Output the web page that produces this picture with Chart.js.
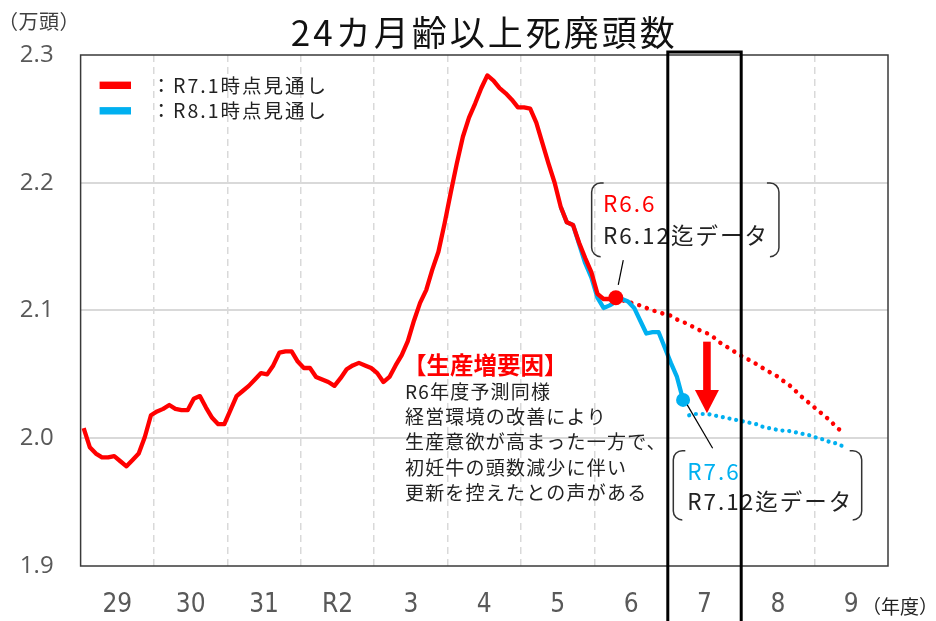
<!DOCTYPE html>
<html><head><meta charset="utf-8">
<script src="https://cdn.jsdelivr.net/npm/chart.js@4.4.1/dist/chart.umd.min.js"></script>
<style>html,body{margin:0;padding:0;background:#fff;}#wrap{width:936px;height:621px;position:relative;}</style>
</head><body><div id="wrap"><canvas id="c" width="936" height="621"></canvas></div>
<script>
// ---- data ----
const YEAR_LABELS = ['29','30','31','R2','3','4','5','6','7','8','9'];
const Y_TICKS = [1.9, 2.0, 2.1, 2.2, 2.3];

// months counted from April of FY29 (index 0)
const RED_ACTUAL_START = 0;
const RED_ACTUAL = [
  2.008,1.993,1.988,1.985,1.985,1.986,1.982,1.978,1.983,1.988,2.001,2.018,
  2.021,2.023,2.026,2.023,2.022,2.022,2.031,2.033,2.024,2.016,2.011,2.011,
  2.022,2.033,2.037,2.041,2.046,2.051,2.050,2.057,2.067,2.068,2.068,2.060,
  2.055,2.055,2.048,2.046,2.044,2.041,2.047,2.054,2.057,2.059,2.057,2.055,
  2.051,2.044,2.048,2.057,2.065,2.076,2.092,2.106,2.116,2.132,2.146,2.168,
  2.192,2.215,2.236,2.251,2.262,2.274,2.284,2.280,2.274,2.270,2.265,2.259,
  2.259,2.258,2.247,2.231,2.215,2.200,2.181,2.169,2.167,2.153,2.141,2.130,
  2.113,2.109,2.109,2.110
];
const BLUE_ACTUAL_START = 78;
const BLUE_ACTUAL = [
  2.181,2.169,2.167,2.152,2.137,2.126,2.110,2.102,2.104,2.107,2.109,2.107,
  2.102,2.092,2.082,2.083,2.083,2.071,2.059,2.048,2.030
];
const RED_OUTLOOK_START = 87;
const RED_OUTLOOK = [
  2.110,2.108,2.107,2.105,2.104,2.102,2.100,2.099,2.097,2.096,2.093,2.091,
  2.089,2.086,2.084,2.082,2.079,2.075,2.072,2.069,2.066,2.063,2.061,2.058,
  2.055,2.052,2.050,2.046,2.043,2.039,2.034,2.030,2.026,2.022,2.018,2.014,
  2.009,2.005
];
const BLUE_OUTLOOK_START = 99;
const BLUE_OUTLOOK = [
  2.018,2.019,2.019,2.019,2.018,2.017,2.016,2.015,2.014,2.013,2.012,2.011,
  2.009,2.008,2.007,2.006,2.006,2.005,2.004,2.003,2.002,2.000,1.999,1.997,
  1.996,1.994
];
const SERIES_NAMES = ['：R7.1時点見通し', '：R8.1時点見通し'];
const TITLE = '24カ月齢以上死廃頭数';
const Y_UNIT = '（万頭）';
const X_UNIT = '（年度）';
const FACTOR_TITLE = '【生産増要因】';
const FACTOR_LINES = ['R6年度予測同様','経営環境の改善により','生産意欲が高まった一方で、','初妊牛の頭数減少に伴い','更新を控えたとの声がある'];

// ---- styles ----
const RED = '#ff0000', BLUE = '#00b0f0';
const JP = '"Noto Sans CJK JP", "Noto Sans", sans-serif';
const MONTHS = YEAR_LABELS.length * 12;

function pts(start, arr) { return arr.map((v, i) => ({ x: start + i + 0.5, y: v })); }
function lastDot(r) { return ctx => ctx.dataIndex === ctx.dataset.data.length - 1 ? r : 0; }

// annotation anchors in (month, value) data coordinates
const ANNOT = {
  c1: { m1: 83.55, m2: 114.17, v1: 2.1998, v2: 2.1421, tm: 85.4, l1v: 2.1839, l2v: 2.1591, t1: 'R6.6', t2: 'R6.12迄データ', col: RED,
        lead: [[88.72, 2.1395], [87.9, 2.12]] },
  c2: { m1: 96.9, m2: 127.7, v1: 1.9903, v2: 1.9361, tm: 99.18, l1v: 1.9739, l2v: 1.9504, t1: 'R7.6', t2: 'R7.12迄データ', col: BLUE,
        lead: [[99.18, 2.0261], [103.33, 1.9922]] },
  arrow: { m: 102.4, top: 2.0756, base: 2.0378, tip: 2.0196 },
  factor: { m: 53.03, titleV: 2.0573, firstV: 2.0364 },
  box: { m1: 96, m2: 108 }
};

function bracketBox(ctx, x1, y1, x2, y2) {
  const r = 9, stub = 12;
  ctx.beginPath();
  ctx.moveTo(x1 + stub, y1); ctx.arcTo(x1, y1, x1, y1 + r, r); ctx.lineTo(x1, y2 - r); ctx.arcTo(x1, y2, x1 + stub, y2, r);
  ctx.moveTo(x2 - stub, y1); ctx.arcTo(x2, y1, x2, y1 + r, r); ctx.lineTo(x2, y2 - r); ctx.arcTo(x2, y2, x2 - stub, y2, r);
  ctx.stroke();
}

const overlay = {
  id: 'overlay',
  beforeDatasetsDraw(chart) {
    const { ctx, chartArea: a } = chart;
    ctx.save();
    ctx.strokeStyle = '#3a3a3a'; ctx.lineWidth = 1.5;
    ctx.strokeRect(a.left, a.top, a.right - a.left, a.bottom - a.top);
    ctx.restore();
  },
  afterDraw(chart) {
    const { ctx, chartArea: a } = chart;
    const X = v => chart.scales.x.getPixelForValue(v);
    const Y = v => chart.scales.y.getPixelForValue(v);
    ctx.save();
    ctx.textBaseline = 'middle';
    // title
    ctx.fillStyle = '#111'; ctx.textAlign = 'center';
    ctx.font = '35px ' + JP; ctx.letterSpacing = '3px';
    ctx.fillText(TITLE, (a.left + a.right) / 2, 33);
    ctx.letterSpacing = '0px';
    // units
    ctx.textAlign = 'left'; ctx.fillStyle = '#404040';
    ctx.font = '20px ' + JP; ctx.letterSpacing = '0.5px';
    ctx.fillText(Y_UNIT, -2, 21);
    ctx.fillStyle = '#222';
    ctx.font = '19px ' + JP; ctx.letterSpacing = '0px';
    ctx.fillText(X_UNIT, 862, 607);
    // legend
    const lg = [[RED, a.top + 30.3], [BLUE, a.top + 55.8]];
    lg.forEach(([c, y], i) => {
      ctx.fillStyle = c; ctx.fillRect(a.left + 19, y - 3.7, 31.4, 7.4);
      ctx.fillStyle = '#222'; ctx.font = '19.5px ' + JP; ctx.letterSpacing = '2px';
      ctx.fillText(SERIES_NAMES[i], a.left + 71, y);
      ctx.letterSpacing = '0px';
    });
    // factor text
    const f = ANNOT.factor;
    ctx.fillStyle = RED; ctx.font = 'bold 23.5px ' + JP; ctx.letterSpacing = '0px';
    ctx.fillText(FACTOR_TITLE, X(f.m) - 2, Y(f.titleV));
    ctx.fillStyle = '#222'; ctx.font = '19px ' + JP; ctx.letterSpacing = '1.2px';
    FACTOR_LINES.forEach((t, i) => ctx.fillText(t, X(f.m), Y(f.firstV) + i * 25.2));
    ctx.letterSpacing = '0px';
    // callouts
    [ANNOT.c1, ANNOT.c2].forEach(c => {
      ctx.strokeStyle = '#333'; ctx.lineWidth = 1.5;
      bracketBox(ctx, X(c.m1), Y(c.v1), X(c.m2), Y(c.v2));
      ctx.font = '22.5px ' + JP; ctx.letterSpacing = '2px';
      ctx.fillStyle = c.col; ctx.fillText(c.t1, X(c.tm), Y(c.l1v));
      ctx.fillStyle = '#222'; ctx.fillText(c.t2, X(c.tm), Y(c.l2v));
      ctx.letterSpacing = '0px';
      ctx.strokeStyle = '#000'; ctx.lineWidth = 1.2;
      ctx.beginPath(); ctx.moveTo(X(c.lead[0][0]), Y(c.lead[0][1])); ctx.lineTo(X(c.lead[1][0]), Y(c.lead[1][1])); ctx.stroke();
    });
    // arrow
    const ar = ANNOT.arrow, ax = X(ar.m);
    ctx.fillStyle = RED;
    ctx.fillRect(ax - 3.8, Y(ar.top), 7.6, Y(ar.base) - Y(ar.top) + 1);
    ctx.beginPath(); ctx.moveTo(ax - 12, Y(ar.base)); ctx.lineTo(ax + 12, Y(ar.base)); ctx.lineTo(ax, Y(ar.tip)); ctx.closePath(); ctx.fill();
    // highlight box around FY7
    ctx.strokeStyle = '#000'; ctx.lineWidth = 3;
    ctx.beginPath();
    ctx.moveTo(X(ANNOT.box.m1), chart.height + 5); ctx.lineTo(X(ANNOT.box.m1), a.top - 3);
    ctx.lineTo(X(ANNOT.box.m2), a.top - 3); ctx.lineTo(X(ANNOT.box.m2), chart.height + 5);
    ctx.stroke();
    ctx.restore();
  }
};

new Chart(document.getElementById('c'), {
  type: 'line',
  data: {
    datasets: [
      { label: SERIES_NAMES[0], data: pts(RED_ACTUAL_START, RED_ACTUAL), borderColor: RED, backgroundColor: RED, borderWidth: 4.3,
        pointRadius: lastDot(7.5), pointHoverRadius: 0, pointBorderWidth: 0, pointBackgroundColor: RED, order: 1, borderJoinStyle: 'round' },
      { label: SERIES_NAMES[1], data: pts(BLUE_ACTUAL_START, BLUE_ACTUAL), borderColor: BLUE, backgroundColor: BLUE, borderWidth: 4.3,
        pointRadius: lastDot(7), pointHoverRadius: 0, pointBorderWidth: 0, pointBackgroundColor: BLUE, order: 2, borderJoinStyle: 'round' },
      { label: 'red outlook', data: pts(RED_OUTLOOK_START, RED_OUTLOOK), borderColor: RED, borderWidth: 4.5, borderDash: [0.01, 8.2],
        borderCapStyle: 'round', borderJoinStyle: 'round', pointRadius: 0, order: 3 },
      { label: 'blue outlook', data: pts(BLUE_OUTLOOK_START, BLUE_OUTLOOK), borderColor: BLUE, borderWidth: 4.2, borderDash: [0.01, 6.8],
        borderCapStyle: 'round', borderJoinStyle: 'round', pointRadius: 0, order: 4 }
    ]
  },
  options: {
    responsive: false, animation: false, events: [],
    layout: { padding: { top: 55, right: 48, left: 0, bottom: 0 } },
    plugins: { legend: { display: false }, tooltip: { enabled: false }, title: { display: false } },
    elements: { line: { tension: 0 } },
    scales: {
      x: {
        type: 'linear', min: 0, max: MONTHS,
        afterBuildTicks: s => { s.ticks = Array.from({ length: MONTHS / 6 + 1 }, (_, k) => ({ value: k * 6 })); },
        afterFit: s => { s.height = 55; },
        ticks: {
          autoSkip: false, maxRotation: 0, padding: 24, color: '#595959',
          font: { family: '"Liberation Sans Narrow", "DejaVu Sans Condensed", "Noto Sans", sans-serif', size: 26 },
          callback: v => (v % 12 === 6 ? YEAR_LABELS[(v - 6) / 12] : '')
        },
        grid: {
          drawTicks: false, lineWidth: 1.5,
          color: c => (c.tick && c.tick.value % 12 === 0 && c.tick.value > 0 && c.tick.value < MONTHS) ? '#d9d9d9' : 'rgba(0,0,0,0)'
        },
        border: { display: false, dash: [7, 5] }
      },
      y: {
        min: 1.9, max: 2.3,
        afterBuildTicks: s => { s.ticks = Y_TICKS.map(v => ({ value: v })); },
        afterFit: s => { s.width = 80.6; },
        ticks: { padding: 27, color: '#595959', font: { family: '"Open Sans", "Noto Sans", sans-serif', size: 24 }, callback: v => v.toFixed(1) },
        grid: { drawTicks: false, lineWidth: 2, color: c => (c.tick && c.tick.value > 1.95 && c.tick.value < 2.25) ? '#d9d9d9' : 'rgba(0,0,0,0)' },
        border: { display: false }
      }
    }
  },
  plugins: [overlay]
});
</script>
</body></html>
